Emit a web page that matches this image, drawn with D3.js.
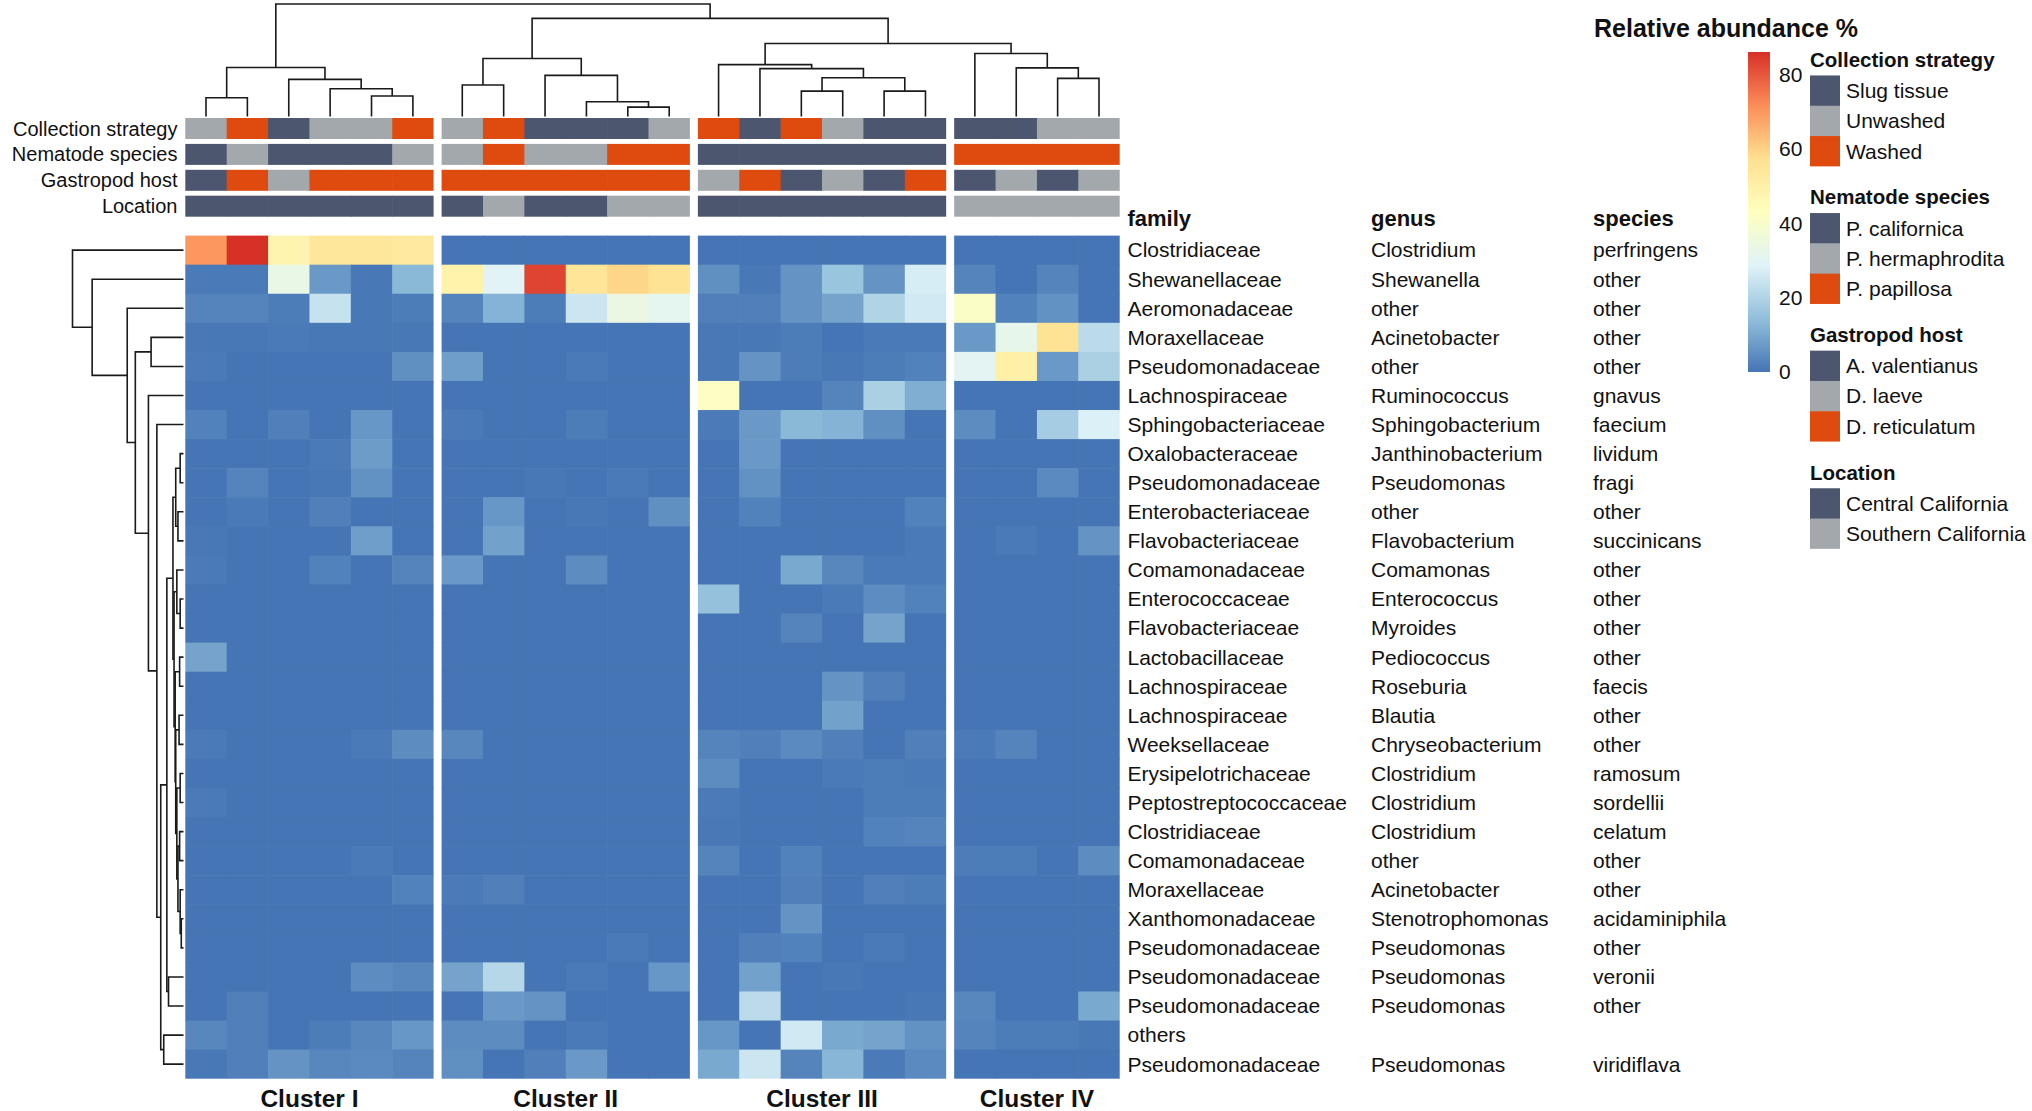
<!DOCTYPE html>
<html><head><meta charset="utf-8">
<script src="https://cdn.jsdelivr.net/npm/d3@7"></script>
<style>
body{margin:0;background:#fff}
svg{display:block}
text{font-family:"Liberation Sans",Arial,Helvetica,sans-serif;fill:#111}
</style>
</head><body>
<svg id="chart" width="2032" height="1111"></svg>
<script>
// ---------------- DATA ----------------
const families = ["Clostridiaceae","Shewanellaceae","Aeromonadaceae","Moraxellaceae","Pseudomonadaceae","Lachnospiraceae","Sphingobacteriaceae","Oxalobacteraceae","Pseudomonadaceae","Enterobacteriaceae","Flavobacteriaceae","Comamonadaceae","Enterococcaceae","Flavobacteriaceae","Lactobacillaceae","Lachnospiraceae","Lachnospiraceae","Weeksellaceae","Erysipelotrichaceae","Peptostreptococcaceae","Clostridiaceae","Comamonadaceae","Moraxellaceae","Xanthomonadaceae","Pseudomonadaceae","Pseudomonadaceae","Pseudomonadaceae","others","Pseudomonadaceae"];
const genera = ["Clostridium","Shewanella","other","Acinetobacter","other","Ruminococcus","Sphingobacterium","Janthinobacterium","Pseudomonas","other","Flavobacterium","Comamonas","Enterococcus","Myroides","Pediococcus","Roseburia","Blautia","Chryseobacterium","Clostridium","Clostridium","Clostridium","other","Acinetobacter","Stenotrophomonas","Pseudomonas","Pseudomonas","Pseudomonas","","Pseudomonas"];
const speciesLabels = ["perfringens","other","other","other","other","gnavus","faecium","lividum","fragi","other","succinicans","other","other","other","other","faecis","other","other","ramosum","sordellii","celatum","other","other","acidaminiphila","other","veronii","other","","viridiflava"];
const labelHeaders = ["family","genus","species"];

const clusterNames = ["Cluster I","Cluster II","Cluster III","Cluster IV"];
const clusterSizes = [6,6,6,4];

// relative abundance (%), one row per taxon, columns in each cluster
const abundanceClusterI = [
 [70,86,48,54,54,53],[1,1,33,7,0.5,13],[3,3,1.5,24,0.5,1.5],[0.5,0.5,1,0.5,0.5,0.5],[1,0,0,0,0,5],
 [0,0,0,0,0,0],[2.5,0,2,0,6.5,0],[0,0,0,1,7.5,0],[0,3,0,0.5,5.5,0],[0,1,0,2,0,0],
 [0.5,0,0,0,8,0],[1,0,0,2.5,0,3],[0,0,0,0,0,0],[0,0,0,0,0,0],[9,0,0,0,0,0],
 [0,0,0,0,0,0],[0,0,0,0,0,0],[1,0,0,0,1,4.5],[0,0,0,0,0,0],[1,0,0,0,0,0],
 [0,0,0,0,0,0],[0,0,0,0,1,0],[0,0,0,0,0,2.5],[0,0,0,0,0,0],[0,0,0,0,0,0],
 [0,0,0,0,4.5,3.5],[0,2,0,0,0,0],[3.5,2,0,1.5,3.5,6.5],[0.5,2,6,3.5,4,3]
];
const abundanceClusterII = [
 [0,0,0,0,0,0],[49,29,83,55,59,56],[3,12,1.5,25,34,31],[0,0,0,0,0,0],[8,0,0,1,0,0],
 [0,0,0,0,0,0],[1,0,0,1.5,0,0],[0,0,0,0,0,0],[0,0,0.5,0,1,0],[0,6.5,0,0.5,0,5],
 [0,8.5,0,0,0,0],[7,0,0,4.5,0,0],[0,0,0,0,0,0],[0,0,0,0,0,0],[0,0,0,0,0,0],
 [0,0,0,0,0,0],[0,0,0,0,0,0],[3.5,0,0,0,0,0],[0,0,0,0,0,0],[0,0,0,0,0,0],
 [0,0,0,0,0,0],[0,0,0,0,0,0],[1,2,0,0,0,0],[0,0,0,0,0,0],[0,0,0,0,1,0],
 [9,21,0,1,0,6.5],[0,7,6,0,0,0],[4.5,4.5,0,1,0,0],[5,0,2,7,0,0]
];
const abundanceClusterIII = [
 [0,0,0,0,0,0],[5,0.5,6,16,6,27],[2,2,6,9,20,26],[0.5,0.5,1.5,0,1,1],[0.5,6,1.5,0.5,1.5,2.5],
 [42,0,0,3,19,11],[1,7,13,12,5,0],[0,7,0,0,0,0],[0,5.5,0,0,0,0],[0,2.5,0,0,0,2.5],
 [0,0,0,0,0,1],[0,0,10,3.5,1,1],[15,0,0,1,4.5,2.5],[0,0,3,0,9,0],[0,0,0,0,0,0],
 [0,0,0,6,2,0],[0,0,0,8.5,0,0],[3,2,4,2,0,2],[4.5,0,0,1,1.5,1],[1,0,0,0,1.5,1.5],
 [0.5,0,0,0,2.5,3],[3,0,2.5,0,0,0],[0,0,2,0,2,1.5],[0,0,6,0,0,0],[0,2,2.5,0,1,0],
 [0,8.5,0,0.5,0,0],[0,22,0,0,0,0.5],[6.5,0,26,10,9,5.5],[10,25,3,12.5,1,4]
];
const abundanceClusterIV = [
 [0,0,0,0],[3,0,3,0],[41,2.5,5.5,0],[7,32,56,22],[30,50,7,19],
 [0,0,0,0],[4.5,0,18,28],[0,0,0,0],[0,0,4,0],[0,0,0,0],
 [0,1,0,6],[0,0,0,0],[0,0,0,0],[0,0,0,0],[0,0,0,0],
 [0,0,0,0],[0,0,0,0],[1,3,0,0],[0,0,0,0],[0,0,0,0],
 [0,0,0,0],[1.5,1.5,0,4.5],[0,0,0,0],[0,0,0,0],[0,0,0,0],
 [0,0,0,0],[3.5,0,0,10],[3,1.5,1.5,0.5],[0,0,0,0]
];
const abundanceMax = 86;
const legendTicks = [0,20,40,60,80];

// column annotations (22 samples)
const annotationNames = ["Collection strategy","Nematode species","Gastropod host","Location"];
const collectionLevels = ["Slug tissue","Unwashed","Washed"];
const nematodeLevels = ["P. californica","P. hermaphrodita","P. papillosa"];
const hostLevels = ["A. valentianus","D. laeve","D. reticulatum"];
const locationLevels = ["Central California","Southern California"];
const collectionStrategy = ["Unwashed","Washed","Slug tissue","Unwashed","Unwashed","Washed",
 "Unwashed","Washed","Slug tissue","Slug tissue","Slug tissue","Unwashed",
 "Washed","Slug tissue","Washed","Unwashed","Slug tissue","Slug tissue",
 "Slug tissue","Slug tissue","Unwashed","Unwashed"];
const nematodeSpecies = ["P. californica","P. hermaphrodita","P. californica","P. californica","P. californica","P. hermaphrodita",
 "P. hermaphrodita","P. papillosa","P. hermaphrodita","P. hermaphrodita","P. papillosa","P. papillosa",
 "P. californica","P. californica","P. californica","P. californica","P. californica","P. californica",
 "P. papillosa","P. papillosa","P. papillosa","P. papillosa"];
const gastropodHost = ["A. valentianus","D. reticulatum","D. laeve","D. reticulatum","D. reticulatum","D. reticulatum",
 "D. reticulatum","D. reticulatum","D. reticulatum","D. reticulatum","D. reticulatum","D. reticulatum",
 "D. laeve","D. reticulatum","A. valentianus","D. laeve","A. valentianus","D. reticulatum",
 "A. valentianus","D. laeve","A. valentianus","D. laeve"];
const sampleLocation = ["Central California","Central California","Central California","Central California","Central California","Central California",
 "Central California","Southern California","Central California","Central California","Southern California","Southern California",
 "Central California","Central California","Central California","Central California","Central California","Central California",
 "Southern California","Southern California","Southern California","Southern California"];

// dendrograms: [mergeHeight, left, right]; numbers = leaf index
const columnTree = [1.0,
  [0.435,[0.167,0,1],[0.330,2,[0.247,3,[0.182,4,5]]]],
  [0.872,
    [0.515,[0.280,6,7],[0.366,8,[0.131,9,[0.083,10,11]]]],
    [0.649,
      [0.461,12,[0.426,13,[0.345,[0.226,14,15],[0.226,16,17]]]],
      [0.560,18,[0.432,19,[0.339,20,21]]]]]];
const rowTree = [1.0,0,[0.823,1,[0.507,2,[0.434,[0.292,3,4],[0.316,5,[0.240,6,
  [0.205,
    [0.150,
      [0.095,
        [0.070,[0.030,7,8],[0.050,9,10]],
        [0.085,[0.060,11,[0.030,12,13]],
          [0.075,[0.035,14,15],[0.070,[0.040,16,17],[0.060,[0.030,18,19],
            [0.050,[0.035,20,21],[0.030,22,[0.020,23,24]]]]]]]],
      [0.135,25,26]],
    [0.178,27,28]]]]]]]];

// ---------------- DRAWING ----------------
const svg = d3.select("#chart");
const nRows = families.length;
const nCols = d3.sum(clusterSizes);
const heatLeft = 185.3, heatRight = 1119.7, gap = 8;
const colW = (heatRight - heatLeft - gap*(clusterSizes.length-1)) / nCols;
const clusterOfCol = [];
clusterSizes.forEach((n,ci)=>{ for(let k=0;k<n;k++) clusterOfCol.push(ci); });
const clusterStart = Array.from(d3.cumsum([0,...clusterSizes]));
const colScale = d3.scaleLinear().domain([0,nCols]).range([heatLeft, heatLeft + nCols*colW]);
const xCol = i => colScale(i) + clusterOfCol[i]*gap;
const y = d3.scaleBand().domain(d3.range(nRows)).range([235.6, 1078.7]);
const rowH = y.bandwidth();

const paletteStops = ["#4575b4","#91bfdb","#e0f3f8","#ffffbf","#fee090","#fc8d59","#d73027"];
const color = d3.scaleLinear()
  .domain(d3.range(paletteStops.length).map(i => abundanceMax*i/(paletteStops.length-1)))
  .range(paletteStops).interpolate(d3.interpolateRgb);

const annColor = ["#4c576f","#a3a8ad","#df4a0e"];

const abundance = d3.range(nRows).map(r =>
  [...abundanceClusterI[r], ...abundanceClusterII[r], ...abundanceClusterIII[r], ...abundanceClusterIV[r]]);

const isClusterEnd = c => clusterStart.includes(c+1);

// heatmap cells
const cells = [];
abundance.forEach((row,r)=>row.forEach((v,c)=>cells.push({r,c,v})));
svg.append("g").selectAll("rect").data(cells).join("rect")
  .attr("x", d => xCol(d.c))
  .attr("y", d => y(d.r))
  .attr("width", d => colW + (isClusterEnd(d.c) ? 0 : 0.6))
  .attr("height", d => rowH + (d.r === nRows-1 ? 0 : 0.6))
  .attr("fill", d => color(d.v));

// column annotations
const annData = [
  {vals: collectionStrategy, levels: collectionLevels},
  {vals: nematodeSpecies, levels: nematodeLevels},
  {vals: gastropodHost, levels: hostLevels},
  {vals: sampleLocation, levels: locationLevels}
];
const annTop = 118, annStep = 25.9, annH = 21;
const yAnn = d3.scaleLinear().domain([0,1]).range([annTop, annTop+annStep]);
annData.forEach((a,k)=>{
  svg.append("g").selectAll("rect").data(a.vals).join("rect")
    .attr("x",(d,i)=>xCol(i))
    .attr("y", yAnn(k))
    .attr("width",(d,i)=> colW + (isClusterEnd(i)?0:0.6))
    .attr("height", annH)
    .attr("fill", d => annColor[a.levels.indexOf(d)]);
  svg.append("text").attr("x",177.5).attr("y", yAnn(k)+annH/2).attr("dy","0.35em")
    .attr("text-anchor","end").style("font-size","20px").text(annotationNames[k]);
});

// dendrograms
const dendroStroke = "#1a1a1a", dendroW = 1.6;
function drawTree(tree, leafPos, hScale, horizontalTop){
  const paths = [];
  function walk(node){
    if (typeof node === "number") return {p: leafPos(node), h: 0};
    const a = walk(node[1]), b = walk(node[2]);
    const hv = hScale(node[0]);
    if (horizontalTop) {
      paths.push(`M${a.p},${hScale(a.h)}V${hv}H${b.p}V${hScale(b.h)}`);
    } else {
      paths.push(`M${hScale(a.h)},${a.p}H${hv}V${b.p}H${hScale(b.h)}`);
    }
    return {p:(a.p+b.p)/2, h: node[0]};
  }
  walk(tree);
  return paths;
}
const topH = d3.scaleLinear().domain([0,1]).range([116.5, 4]);
const colPaths = drawTree(columnTree, i => xCol(i)+colW/2, topH, true);
svg.append("g").selectAll("path").data(colPaths).join("path")
  .attr("d", d=>d).attr("fill","none").attr("stroke",dendroStroke).attr("stroke-width",dendroW);
const leftH = d3.scaleLinear().domain([0,1]).range([183.5, 72.5]);
const rowPaths = drawTree(rowTree, r => y(r)+rowH/2, leftH, false);
svg.append("g").selectAll("path").data(rowPaths).join("path")
  .attr("d", d=>d).attr("fill","none").attr("stroke",dendroStroke).attr("stroke-width",dendroW);

// row labels
const labelX = [1127.5, 1371, 1593];
[families, genera, speciesLabels].forEach((arr,k)=>{
  svg.append("text").attr("x",labelX[k]).attr("y",226)
    .style("font-size","22px").style("font-weight","bold").text(labelHeaders[k]);
  svg.append("g").selectAll("text").data(arr).join("text")
    .attr("x",labelX[k]).attr("y",(d,i)=>y(i)+rowH/2).attr("dy","0.35em")
    .style("font-size","21px").text(d=>d);
});

// cluster labels
svg.append("g").selectAll("text").data(clusterNames).join("text")
  .attr("x",(d,ci)=> (xCol(clusterStart[ci]) + xCol(clusterStart[ci+1]-1) + colW)/2)
  .attr("y",1107).attr("text-anchor","middle")
  .style("font-size","24.5px").style("font-weight","bold").text(d=>d);

// color legend
svg.append("text").attr("x",1594).attr("y",37)
  .style("font-size","25px").style("font-weight","bold").text("Relative abundance %");
const legY = d3.scaleLinear().domain([0,abundanceMax]).range([372,52]);
const grad = svg.append("defs").append("linearGradient").attr("id","abGrad")
  .attr("x1",0).attr("y1",1).attr("x2",0).attr("y2",0);
grad.selectAll("stop").data(color.domain()).join("stop")
  .attr("offset",d=>d/abundanceMax).attr("stop-color",d=>color(d));
svg.append("rect").attr("x",1748).attr("y",legY(abundanceMax)).attr("width",22)
  .attr("height",legY(0)-legY(abundanceMax)).attr("fill","url(#abGrad)");
svg.append("g").selectAll("text").data(legendTicks).join("text")
  .attr("x",1779).attr("y",d=>legY(d)).attr("dy","0.35em")
  .style("font-size","21px").text(d=>d);

// annotation legends
const legX = 1810, swW = 30, swH = 30.3;
let ty = 59.6;
annData.forEach((a,k)=>{
  svg.append("text").attr("x",legX).attr("y",ty).attr("dy","0.35em")
    .style("font-size","20.5px").style("font-weight","bold").text(annotationNames[k]);
  const g = svg.append("g");
  a.levels.forEach((lv,i)=>{
    const cy = ty + 31 + swH*i;
    g.append("rect").attr("x",legX).attr("y",cy-swH/2).attr("width",swW).attr("height",swH+(i<a.levels.length-1?0.5:0))
      .attr("fill",annColor[i]);
    g.append("text").attr("x",legX+36).attr("y",cy).attr("dy","0.35em")
      .style("font-size","21px").text(lv);
  });
  ty = ty + 31 + swH*(a.levels.length-1) + 46;
});
</script>
</body></html>
